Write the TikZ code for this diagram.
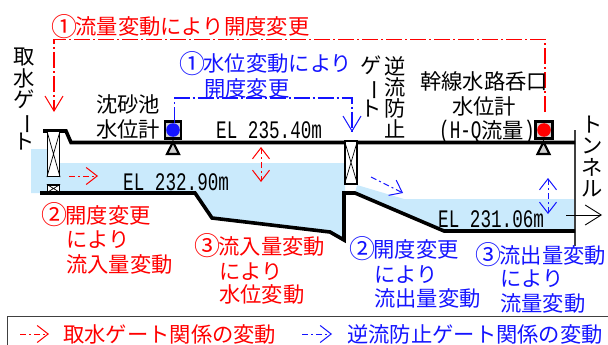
\documentclass[tikz,border=0pt]{standalone}
\usepackage{fontspec}
\usepackage{graphicx}
\usetikzlibrary{arrows.meta}
\setmainfont{Noto Sans CJK JP}
\newfontfamily\monofam{Liberation Mono}
\newcommand{\jpf}{\fontsize{21.3}{21.3}\selectfont\lineskiplimit=-100pt\relax}
\newcommand{\hw}[1]{\scalebox{.84}[1.2]{\monofam\fontsize{21}{21}\selectfont #1}}
\newcommand{\vbar}{\rotatebox[origin=c]{-90}{ー}}
\newcommand{\cnum}[1]{\makebox[21.3pt][c]{\raisebox{-1.5pt}{\scalebox{1.22}{#1}}}}
\definecolor{waterc}{HTML}{CAEAFC}
\definecolor{mred}{HTML}{FF0000}
\definecolor{mblue}{HTML}{1414FF}
\definecolor{meterc}{HTML}{D0D0D0}
\definecolor{framec}{HTML}{404040}
\tikzset{
 lbl/.style={inner sep=0pt,anchor=west,font=\jpf,text height=18.5pt,text depth=2.5pt},
 vlbl/.style={inner sep=0pt,anchor=north,font=\jpf,align=center},
 redlbl/.style={lbl,text=mred},
 bluelbl/.style={lbl,text=mblue},
 channel/.style={line width=3.6pt,line join=miter,draw=black},
 gatebox/.style={draw=black,line width=1.2pt,fill=white},
 meterbox/.style={draw=black,line width=2.2pt,fill=meterc},
 stand/.style={draw=black,line width=2.2pt,fill=meterc,line join=miter},
 ctl/.style={line width=1.1pt,dash pattern=on 16pt off 3pt on 2pt off 3pt},
 chg/.style={line width=.9pt,dash pattern=on 6pt off 3pt on 2pt off 3pt},
 tipE/.style={-{Straight Barb[length=11pt,width=17pt,line width=1pt]}},
 tipB/.style={{Straight Barb[length=11pt,width=17pt,line width=1pt]}-{Straight Barb[length=11pt,width=17pt,line width=1pt]}},
 tipL/.style={-{Straight Barb[length=15pt,width=18pt,line width=1pt]}},
}
\begin{document}
\begin{tikzpicture}[x=1pt,y=-1pt]
\useasboundingbox (0,0) rectangle (608,345);
% water
\fill[waterc] (31,149) -- (50,149) -- (50,163) -- (345,163) -- (345,192) -- (344,240) -- (330,232) -- (212,218) -- (195,193) -- (31,193) -- cycle;
\fill[waterc] (357,185) -- (404,199) -- (575,199) -- (575,231) -- (444,231) -- (355,193) -- cycle;
% tunnel wall
\draw[framec,line width=1.5pt] (575,130) coordinate (tuntop) -- (575,246) coordinate (tunbot);
% channel
\draw[channel] (43,131) -- (66,131) -- (71,142.5) -- (575,142.5);
\draw[channel] (40,193) -- (195,193) -- (212,218) -- (330,232) -- (344,240) -- (344,193) -- (355,193) -- (444,231) -- (575,231);
% gates
\node[gatebox,minimum width=12pt,minimum height=45pt,inner sep=0pt] (gateA) at (53.5,154) {};
\draw[line width=.7pt] (gateA.north west) -- (gateA.south east) (gateA.north east) -- (gateA.south west);
\node[gatebox,minimum width=12pt,minimum height=7pt,inner sep=0pt] (gateAs) at (53.5,188.5) {};
\draw[line width=.7pt] (gateAs.north west) -- (gateAs.south east) (gateAs.north east) -- (gateAs.south west);
\node[gatebox,minimum width=12pt,minimum height=43pt,inner sep=0pt] (gateB) at (351,162.5) {};
\draw[line width=.7pt] (gateB.north west) -- (gateB.south east) (gateB.north east) -- (gateB.south west);
% meters
\draw[stand] (173,142) -- (179,154) -- (167,154) -- cycle;
\node[meterbox,minimum width=15.5pt,minimum height=17pt,inner sep=0pt] (meterA) at (173,130) {};
\fill[mblue] (173,130) circle (6.8pt);
\draw[stand] (543.5,142) -- (549.5,154) -- (537.5,154) -- cycle;
\node[meterbox,minimum width=17pt,minimum height=17pt,inner sep=0pt] (meterB) at (544,130) {};
\fill[mred] (544,130) circle (6.8pt);
% control lines
\coordinate (redL) at (54,39.5);
\coordinate (redR) at (545,39.5);
\coordinate (redLend) at (54,112);
\coordinate (redRend) at (545,112);
\draw[mred,ctl,tipL] (redRend) -- (redR) -- (redL) -- (redLend);
\coordinate (blueL) at (174.5,98);
\coordinate (blueR) at (352,98);
\coordinate (blueLend) at (174.5,123);
\coordinate (blueRend) at (352,132);
\draw[mblue,ctl,tipL] (blueLend) -- (blueL) -- (blueR) -- (blueRend);
% variation arrows
\coordinate (a1s) at (261,147); \coordinate (a1e) at (261,182);
\draw[mred,chg,tipB] (a1s) -- (a1e);
\coordinate (a2s) at (548,178); \coordinate (a2e) at (548,214);
\draw[mblue,chg,tipB] (a2s) -- (a2e);
\coordinate (a3s) at (69,176); \coordinate (a3e) at (98,176);
\draw[mred,chg,tipE] (a3s) -- (a3e);
\coordinate (a4s) at (371,177); \coordinate (a4e) at (403,193);
\draw[mblue,chg,tipE] (a4s) -- (a4e);
\coordinate (a5s) at (566,215); \coordinate (a5e) at (602,215);
\draw[black,line width=.9pt,-{Straight Barb[length=16pt,width=20pt,line width=.9pt]}] (a5s) -- (a5e);
% legend frame
\draw[framec,line width=1pt] (7,345) -- (7,316) -- (608,316);
\coordinate (l1s) at (20,334); \coordinate (l1e) at (49,334);
\draw[mred,chg,tipE] (l1s) -- (l1e);
\coordinate (l2s) at (302,334); \coordinate (l2e) at (332,334);
\draw[mblue,chg,tipE] (l2s) -- (l2e);
% labels: red
\node[redlbl] (t1) at (54,27) {\cnum{①}流量変動により開度変更};
\node[redlbl] (t2) at (44,215) {\cnum{②}開度変更};
\node[redlbl] (t3) at (66,239) {により};
\node[redlbl] (t4) at (66,264) {流入量変動};
\node[redlbl] (t5) at (197,246) {\cnum{③}流入量変動};
\node[redlbl] (t6) at (219,271) {により};
\node[redlbl] (t7) at (219,294) {水位変動};
\node[redlbl] (t8) at (63,334) {取水ゲート関係の変動};
% labels: blue
\node[bluelbl] (b1) at (182,64) {\cnum{①}水位変動により};
\node[bluelbl] (b2) at (204,88) {開度変更};
\node[bluelbl] (b3) at (352,249) {\cnum{②}開度変更};
\node[bluelbl] (b4) at (374,274) {により};
\node[bluelbl] (b5) at (374,298) {流出量変動};
\node[bluelbl] (b6) at (478,255) {\cnum{③}流出量変動};
\node[bluelbl] (b7) at (500,278) {により};
\node[bluelbl] (b8) at (500,303) {流量変動};
\node[bluelbl] (b9) at (347,334) {逆流防止ゲート関係の変動};
% labels: black
\node[lbl] (k1) at (96,104) {沈砂池};
\node[lbl] (k2) at (96,129) {水位計};
\node[lbl] (k3) at (420,81) {幹線水路呑口};
\node[lbl] (k4) at (452,106) {水位計};
\node[lbl] (k5) at (439,130) {\hw{(H-Q}流量\hw{)}};
\node[lbl] (e1) at (216,131) {\hw{EL 235.40m}};
\node[lbl] (e2) at (123,182) {\hw{EL 232.90m}};
\node[lbl] (e3) at (438,219) {\hw{EL 231.06m}};
\node[vlbl] (v1) at (24,48) {取\\水\\ゲ\\\vbar\\ト};
\node[vlbl] (v2) at (371,56) {ゲ\\\vbar\\ト};
\node[vlbl] (v3) at (395,56) {逆\\流\\防\\止};
\node[vlbl] (v4) at (592,116) {ト\\ン\\ネ\\ル};
\end{tikzpicture}
\end{document}
